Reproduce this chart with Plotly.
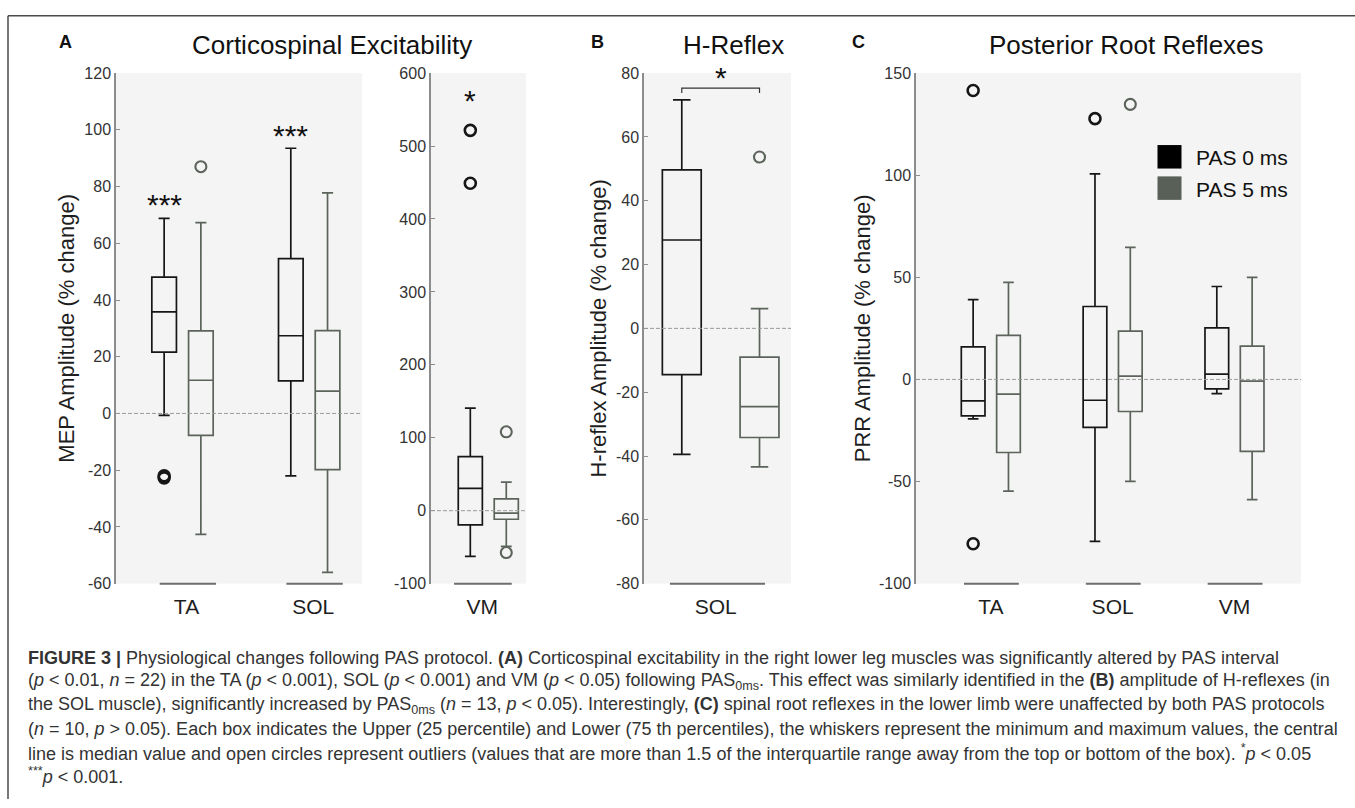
import plotly.graph_objects as go

W, H = 1355, 808

# ------------------------------------------------------------------ data
SERIES = ["PAS 0 ms", "PAS 5 ms"]

# Panel A – Corticospinal excitability (MEP amplitude, % change)
A_CATS = ["TA", "SOL"]
A0_Q1 = [21.6, 11.5]
A0_MED = [35.8, 27.4]
A0_Q3 = [48.1, 54.6]
A0_LO = [-0.7, -22.0]
A0_HI = [68.8, 93.5]
A0_OUT = [[-22.0, -22.7], []]
A5_Q1 = [-7.7, -19.8]
A5_MED = [11.7, 7.9]
A5_Q3 = [29.1, 29.2]
A5_LO = [-42.6, -56.0]
A5_HI = [67.3, 77.8]
A5_OUT = [[87.0], []]
A_SIG = ["***", "***"]
A_SIG_Y = [72.6, 97.1]
A_TICKS = [-60, -40, -20, 0, 20, 40, 60, 80, 100, 120]

# Panel A (VM, own scale)
VM_CATS = ["VM"]
VM0_Q1 = [-19.5]
VM0_MED = [30.7]
VM0_Q3 = [74.2]
VM0_LO = [-62.5]
VM0_HI = [140.6]
VM0_OUT = [[521.5, 449.0]]
VM5_Q1 = [-11.7]
VM5_MED = [-3.4]
VM5_Q3 = [16.2]
VM5_LO = [-49.0]
VM5_HI = [39.1]
VM5_OUT = [[108.2, -57.4]]
VM_SIG = ["*"]
VM_SIG_Y = [558.0]
VM_TICKS = [-100, 0, 100, 200, 300, 400, 500, 600]

# Panel B – H-reflex (SOL)
B_CATS = ["SOL"]
B0_Q1 = [-14.5]
B0_MED = [27.7]
B0_Q3 = [49.7]
B0_LO = [-39.5]
B0_HI = [71.6]
B0_OUT = [[]]
B5_Q1 = [-34.2]
B5_MED = [-24.5]
B5_Q3 = [-9.0]
B5_LO = [-43.4]
B5_HI = [6.2]
B5_OUT = [[53.7]]
B_SIG = "*"
B_SIG_Y = 77.8
B_BRACKET_Y = 75.3
B_BRACKET_END = 73.8
B_TICKS = [-80, -60, -40, -20, 0, 20, 40, 60, 80]

# Panel C – Posterior root reflexes
C_CATS = ["TA", "SOL", "VM"]
C0_Q1 = [-17.9, -23.5, -4.6]
C0_MED = [-10.5, -10.2, 2.6]
C0_Q3 = [15.9, 35.7, 25.2]
C0_LO = [-19.3, -79.3, -7.0]
C0_HI = [39.1, 100.7, 45.5]
C0_OUT = [[141.5, -80.5], [127.7], []]
C5_Q1 = [-35.8, -15.7, -35.2]
C5_MED = [-7.2, 1.6, -0.8]
C5_Q3 = [21.6, 23.6, 16.3]
C5_LO = [-54.7, -49.9, -58.9]
C5_HI = [47.5, 64.7, 50.0]
C5_OUT = [[], [134.7], []]
C_TICKS = [-100, -50, 0, 50, 100, 150]

CAPTION = [
    "<b>FIGURE 3 |</b> Physiological changes following PAS protocol. <b>(A)</b> Corticospinal excitability in the right lower leg muscles was significantly altered by PAS interval",
    "(<i>p</i> &lt; 0.01, <i>n</i> = 22) in the TA (<i>p</i> &lt; 0.001), SOL (<i>p</i> &lt; 0.001) and VM (<i>p</i> &lt; 0.05) following PAS<sub>0ms</sub>. This effect was similarly identified in the <b>(B)</b> amplitude of H-reflexes (in",
    "the SOL muscle), significantly increased by PAS<sub>0ms</sub> (<i>n</i> = 13, <i>p</i> &lt; 0.05). Interestingly, <b>(C)</b> spinal root reflexes in the lower limb were unaffected by both PAS protocols",
    "(<i>n</i> = 10, <i>p</i> &gt; 0.05). Each box indicates the Upper (25 percentile) and Lower (75 th percentiles), the whiskers represent the minimum and maximum values, the central",
    "line is median value and open circles represent outliers (values that are more than 1.5 of the interquartile range away from the top or bottom of the box). <sup>*</sup><i>p</i> &lt; 0.05",
    "<sup>***</sup><i>p</i> &lt; 0.001.",
]

# ------------------------------------------------------------------ style
FONT = "Liberation Sans, Arial, Helvetica, sans-serif"
COLORS = ["#161616", "#5b635b"]
AXIS_GRAY = "#8c8c8c"
BOXGAP, BOXGROUPGAP = 0.42, 0.33
GF = 1 - BOXGAP
OFF0 = -0.25 * GF  # centre offset of first series within a category


def px2x(px):
    return px / W


def px2y(py):
    return 1 - py / H


def sample_rows(rows):
    # box traces with precomputed stats take the outliers as one list per box;
    # an empty list is replaced by a single missing value so the trace stays valid
    return [list(r) if len(r) else [None] for r in rows]


Y_DOM = [px2y(588), px2y(66.5)]

panels = [
    dict(xa="x", ya="y", cats=A_CATS, kind="category", ticks=A_TICKS,
         s0=(A0_Q1, A0_MED, A0_Q3, A0_LO, A0_HI, A0_OUT),
         s5=(A5_Q1, A5_MED, A5_Q3, A5_LO, A5_HI, A5_OUT),
         dom=(116, 362), xr=[-0.525, 1.417],
         seg=(-0.18, 0.265), shift=4, title="MEP Amplitude (% change)", standoff=4),
    dict(xa="x2", ya="y2", cats=VM_CATS, kind="category", ticks=VM_TICKS,
         s0=(VM0_Q1, VM0_MED, VM0_Q3, VM0_LO, VM0_HI, VM0_OUT),
         s5=(VM5_Q1, VM5_MED, VM5_Q3, VM5_LO, VM5_HI, VM5_OUT),
         dom=(431, 526), xr=[-0.462, 0.304],
         seg=(-0.276, 0.189), shift=-6, title=None, standoff=0),
    dict(xa="x3", ya="y3", cats=B_CATS, kind="linear", ticks=B_TICKS,
         s0=(B0_Q1, B0_MED, B0_Q3, B0_LO, B0_HI, B0_OUT),
         s5=(B5_Q1, B5_MED, B5_Q3, B5_LO, B5_HI, B5_OUT),
         dom=(644, 791), xr=[-0.486, 1.405],
         seg=(-0.152, 1.071), shift=-5, title="H-reflex Amplitude (% change)", standoff=3),
    dict(xa="x4", ya="y4", cats=C_CATS, kind="category", ticks=C_TICKS,
         s0=(C0_Q1, C0_MED, C0_Q3, C0_LO, C0_HI, C0_OUT),
         s5=(C5_Q1, C5_MED, C5_Q3, C5_LO, C5_HI, C5_OUT),
         dom=(916, 1301), xr=[-0.614, 2.546],
         seg=(-0.22, 0.23), shift=0, title="PRR Amplitude (% change)", standoff=2),
]

fig = go.Figure()
shapes = []
annotations = []
layout = {}

for pi, p in enumerate(panels):
    for si, (name, stats) in enumerate(zip(SERIES, (p["s0"], p["s5"]))):
        q1, med, q3, lo, hi, out = stats
        if p["kind"] == "category":
            xs = p["cats"]
            extra = dict(offsetgroup=str(si), alignmentgroup=f"g{pi}")
        else:
            xs = [si] * len(p["cats"])
            extra = dict(width=0.5)
        fig.add_trace(go.Box(
            x=xs, q1=q1, median=med, q3=q3, lowerfence=lo, upperfence=hi,
            y=sample_rows(out), name=name, boxpoints="outliers", pointpos=0, jitter=0,
            whiskerwidth=0.45, fillcolor="rgba(0,0,0,0)",
            line=dict(color=COLORS[si], width=1.7),
            marker=dict(symbol="circle-open", size=11, color=COLORS[si],
                        line=dict(width=2.6 if si == 0 else 2.1, color=COLORS[si])),
            xaxis=p["xa"], yaxis=p["ya"], showlegend=False, hoverinfo="skip",
            **extra,
        ))

    xkey = "xaxis" + p["xa"][1:]
    ykey = "yaxis" + p["ya"][1:]
    xax = dict(domain=[px2x(p["dom"][0]), px2x(p["dom"][1])], anchor=p["ya"],
               range=p["xr"], showline=False, showgrid=False, zeroline=False,
               ticks="", tickfont=dict(size=21, color="#1e1e1e", family=FONT),
               ticklabelshift=p["shift"], ticklabelstandoff=8, fixedrange=True)
    if p["kind"] == "category":
        xax.update(type="category", categoryorder="array", categoryarray=p["cats"])
        seg_centres = list(range(len(p["cats"])))
    else:
        mid = (0 + len(SERIES) - 1) / 2
        xax.update(type="linear", tickmode="array", tickvals=[mid], ticktext=p["cats"])
        seg_centres = [0]
    tv = p["ticks"]
    yax = dict(domain=Y_DOM, anchor=p["xa"], range=[tv[0], tv[-1]],
               tickmode="array", tickvals=tv, ticktext=[str(v) for v in tv],
               showline=True, linecolor=AXIS_GRAY, linewidth=1.5,
               ticks="inside", ticklen=4, tickwidth=1.2, tickcolor=AXIS_GRAY,
               showgrid=False, zeroline=False,
               tickfont=dict(size=16, color="#333333", family=FONT), fixedrange=True)
    if p["title"]:
        yax["title"] = dict(text=p["title"], standoff=p["standoff"],
                            font=dict(size=22, color="#1e1e1e", family=FONT))
    layout[xkey] = xax
    layout[ykey] = yax

    # dashed zero reference line
    shapes.append(dict(type="line", xref=p["xa"] + " domain", x0=0, x1=1,
                       yref=p["ya"], y0=0, y1=0,
                       line=dict(color="#9a9a9a", width=1, dash="4px,2px")))
    # grouping segments at the bottom
    for c in seg_centres:
        shapes.append(dict(type="line", xref=p["xa"], x0=c + p["seg"][0], x1=c + p["seg"][1],
                           yref="paper", y0=Y_DOM[0], y1=Y_DOM[0],
                           line=dict(color="#6e6e6e", width=2)))

# significance markers
SIG_SHIFT = 3
for i, (s, yv) in enumerate(zip(A_SIG, A_SIG_Y)):
    annotations.append(dict(text=s, x=i + OFF0, y=yv, xref="x", yref="y", showarrow=False,
                            yshift=SIG_SHIFT, font=dict(size=30, color="#111", family=FONT)))
for i, (s, yv) in enumerate(zip(VM_SIG, VM_SIG_Y)):
    annotations.append(dict(text=s, x=i + OFF0, y=yv, xref="x2", yref="y2", showarrow=False,
                            yshift=SIG_SHIFT, font=dict(size=30, color="#111", family=FONT)))
shapes.append(dict(type="path", xref="x3", yref="y3",
                   path=f"M 0,{B_BRACKET_END} L 0,{B_BRACKET_Y} L 1,{B_BRACKET_Y} L 1,{B_BRACKET_END}",
                   line=dict(color="#333", width=1.2)))
annotations.append(dict(text=B_SIG, x=0.5, y=B_SIG_Y, xref="x3", yref="y3", showarrow=False,
                        yshift=SIG_SHIFT, font=dict(size=30, color="#111", family=FONT)))

# panel titles and letters
for txt, cx in [("Corticospinal Excitability", 332), ("H-Reflex", 733), ("Posterior Root Reflexes", 1126.5)]:
    annotations.append(dict(text=txt, x=px2x(cx), y=px2y(38), xref="paper", yref="paper",
                            showarrow=False, xanchor="center", yanchor="middle",
                            font=dict(size=26, color="#111", family=FONT)))
for txt, cx in [("A", 65), ("B", 597.5), ("C", 858.5)]:
    annotations.append(dict(text=f"<b>{txt}</b>", x=px2x(cx), y=px2y(35), xref="paper", yref="paper",
                            showarrow=False, xanchor="center", yanchor="middle",
                            font=dict(size=18, color="#111", family=FONT)))

# legend (drawn inside panel C)
for si, (name, col, cy) in enumerate(zip(SERIES, ["#000000", "#586058"], [152, 184])):
    shapes.append(dict(type="rect", xref="paper", yref="paper",
                       x0=px2x(1157.5), x1=px2x(1181.5), y0=px2y(cy - 12), y1=px2y(cy + 12),
                       fillcolor=col, line=dict(width=0)))
    annotations.append(dict(text=name, x=px2x(1194), y=px2y(cy + 1), xref="paper", yref="paper",
                            showarrow=False, xanchor="left", yanchor="middle",
                            font=dict(size=21, color="#111", family=FONT)))

# frame lines (top and left)
shapes.append(dict(type="line", xref="paper", yref="paper", x0=px2x(8), x1=1,
                   y0=px2y(8), y1=px2y(8), line=dict(color="#4a4a4a", width=1.5)))
shapes.append(dict(type="line", xref="paper", yref="paper", x0=px2x(8), x1=px2x(8),
                   y0=px2y(8), y1=0, line=dict(color="#4a4a4a", width=1.5)))

# caption
for li, line in enumerate(CAPTION):
    annotations.append(dict(text=line, x=px2x(26), y=px2y(664 + 24 * li), xref="paper", yref="paper",
                            showarrow=False, xanchor="left", yanchor="middle", align="left",
                            font=dict(size=18, color="#333333", family=FONT)))

fig.update_layout(
    width=W, height=H, autosize=False,
    margin=dict(l=0, r=0, t=0, b=0),
    paper_bgcolor="white", plot_bgcolor="#f4f4f4",
    boxmode="group", boxgap=BOXGAP, boxgroupgap=BOXGROUPGAP,
    showlegend=False, font=dict(family=FONT, color="#222"),
    shapes=shapes, annotations=annotations,
    **layout,
)

fig.write_html("out.html", config=dict(displayModeBar=False))
